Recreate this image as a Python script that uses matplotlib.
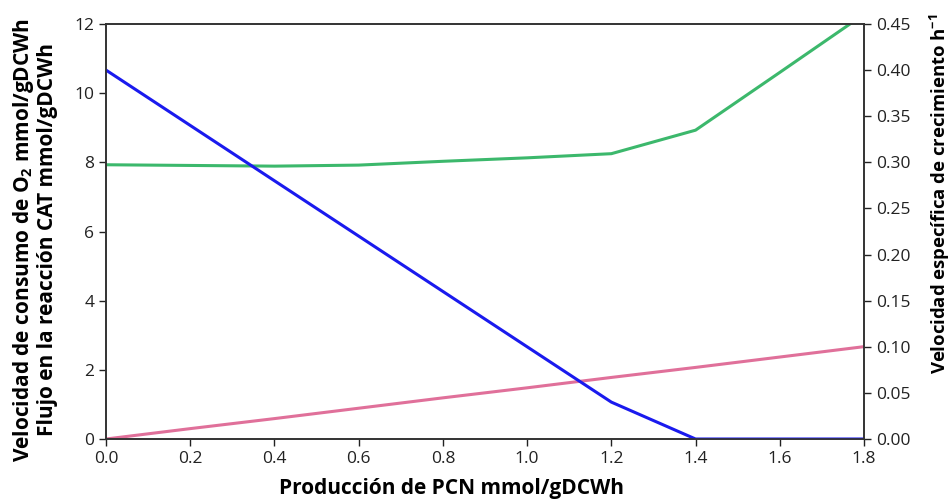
import matplotlib
matplotlib.use("Agg")
import matplotlib.pyplot as plt

# PCN production (x) and the three simulated responses
pcn = [0.0, 0.2, 0.4, 0.6, 0.8, 1.0, 1.2, 1.4, 1.6, 1.8]
o2_uptake = [7.93, 7.91, 7.89, 7.92, 8.03, 8.13, 8.25, 8.93, 10.6, 12.28]
cat_flux = [0.0, 0.30, 0.59, 0.89, 1.19, 1.48, 1.78, 2.07, 2.37, 2.67]
growth = [0.40, 0.34, 0.28, 0.22, 0.16, 0.10, 0.04, 0.0, 0.0, 0.0]

xticks = [0.0, 0.2, 0.4, 0.6, 0.8, 1.0, 1.2, 1.4, 1.6, 1.8]
yticks_left = [0, 2, 4, 6, 8, 10, 12]
yticks_right = [0.00, 0.05, 0.10, 0.15, 0.20, 0.25, 0.30, 0.35, 0.40, 0.45]

plt.rcParams["font.family"] = ["Open Sans", "DejaVu Sans"]
plt.rcParams["mathtext.fontset"] = "custom"
plt.rcParams["mathtext.rm"] = "Open Sans"
plt.rcParams["mathtext.bf"] = "Open Sans:bold"

fig = plt.figure(figsize=(9.51, 5.0), dpi=100)
ax = fig.add_axes([0.1115, 0.122, 0.797, 0.830])
ax2 = ax.twinx()

ax.plot(pcn, o2_uptake, color="#3cb86c", lw=2.2)
ax.plot(pcn, cat_flux, color="#e0709a", lw=2.2)
ax2.plot(pcn, growth, color="#1a1aee", lw=2.2)

ax.set_xlim(0, 1.8)
ax.set_ylim(0, 12)
ax2.set_ylim(0, 0.45)

ax.set_xticks(xticks)
ax.set_xticklabels([f"{v:.1f}" for v in xticks])
ax.set_yticks(yticks_left)
ax2.set_yticks(yticks_right)
ax2.set_yticklabels([f"{v:.2f}" for v in yticks_right])

for a in (ax, ax2):
    a.tick_params(direction="out", length=5, width=1, labelsize=12.5, colors="#222222")
    for s in a.spines.values():
        s.set_color("#333333")
        s.set_linewidth(1.2)

ax.set_xlabel("Producción de PCN mmol/gDCWh", fontsize=15, fontweight="bold")
ax.xaxis.set_label_coords(0.456, -0.094)
ax.set_ylabel("Velocidad de consumo de O$_\\mathbf{2}$ mmol/gDCWh\nFlujo en la reacción CAT mmol/gDCWh",
              fontsize=15, fontweight="bold", linespacing=1.05)
ax.yaxis.set_label_coords(-0.063, 0.48)
ax2.set_ylabel("Velocidad específica de crecimiento h$^\\mathbf{-1}$",
               fontsize=13.3, fontweight="bold")
ax2.yaxis.set_label_coords(1.084, 0.59)

fig.savefig("out.png", dpi=100)
